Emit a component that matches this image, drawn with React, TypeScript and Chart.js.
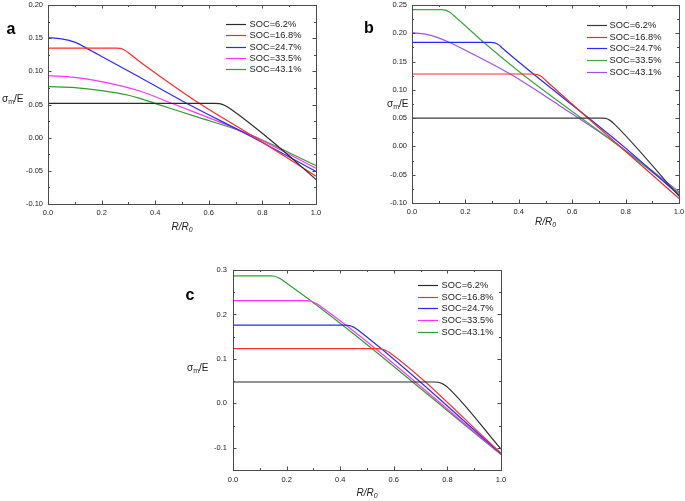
import React, { useEffect, useRef } from "react";
import { Chart, registerables } from "chart.js";

Chart.register(...registerables);

// ---------- data ----------
const SOC_LABELS = ["SOC=6.2%", "SOC=16.8%", "SOC=24.7%", "SOC=33.5%", "SOC=43.1%"];
const X_TICKS = [0, 0.2, 0.4, 0.6, 0.8, 1.0];
const A_Y_TICKS = [-0.1, -0.05, 0, 0.05, 0.1, 0.15, 0.2];
const B_Y_TICKS = [-0.1, -0.05, 0, 0.05, 0.1, 0.15, 0.2, 0.25];
const C_Y_TICKS = [-0.1, 0, 0.1, 0.2, 0.3];

// panel a  [R/R0, sigma_m/E]
const A_SOC62 = [[0, 0.0518], [0.62, 0.0518], [0.64, 0.0512], [0.66, 0.0485], [0.68, 0.0435], [0.83, -0.0035], [1, -0.063]];
const A_SOC168 = [[0, 0.135], [0.255, 0.135], [0.27, 0.1345], [0.285, 0.1322], [0.3425, 0.1145], [0.564, 0.0518], [0.747, 0.0066], [1, -0.058]];
const A_SOC247 = [[0, 0.151], [0.05, 0.149], [0.1, 0.144], [0.15, 0.1335], [0.2, 0.1225], [0.3425, 0.091], [0.517, 0.0518], [0.747, 0.004], [1, -0.051]];
const A_SOC335 = [[0, 0.0935], [0.1, 0.091], [0.2, 0.0845], [0.3425, 0.0703], [0.461, 0.0518], [0.747, 0.0055], [1, -0.046]];
const A_SOC431 = [[0, 0.077], [0.1, 0.0755], [0.2, 0.071], [0.3, 0.064], [0.3425, 0.0593], [0.3985, 0.0518], [0.55, 0.032], [0.741, 0.0066], [1, -0.042]];

// panel b
const B_SOC62 = [[0, 0.05], [0.71, 0.05], [0.725, 0.0495], [0.74, 0.0465], [0.76, 0.0385], [1, -0.088]];
const B_SOC168 = [[0, 0.128], [0.455, 0.128], [0.47, 0.127], [0.485, 0.1235], [0.5, 0.117], [1, -0.092]];
const B_SOC247 = [[0, 0.184], [0.295, 0.184], [0.31, 0.183], [0.325, 0.1795], [0.34, 0.173], [0.8, -0.003], [1, -0.086]];
const B_SOC335 = [[0, 0.242], [0.11, 0.242], [0.125, 0.241], [0.14, 0.2375], [0.155, 0.232], [0.266, 0.185], [0.41, 0.129], [0.78, -0.001], [1, -0.083]];
const B_SOC431 = [[0, 0.201], [0.05, 0.1985], [0.1, 0.192], [0.137, 0.1845], [0.2, 0.17], [0.368, 0.128], [0.55, 0.073], [0.78, 0], [1, -0.08]];

// panel c
const C_SOC62 = [[0, 0.048], [0.75, 0.048], [0.765, 0.0475], [0.78, 0.0445], [0.8, 0.0365], [1, -0.103]];
const C_SOC168 = [[0, 0.123], [0.54, 0.123], [0.555, 0.122], [0.57, 0.119], [0.585, 0.114], [1, -0.112]];
const C_SOC247 = [[0, 0.176], [0.42, 0.176], [0.435, 0.175], [0.45, 0.1715], [0.465, 0.1655], [1, -0.113]];
const C_SOC335 = [[0, 0.231], [0.275, 0.231], [0.29, 0.23], [0.305, 0.2265], [0.32, 0.221], [1, -0.114]];
const C_SOC431 = [[0, 0.287], [0.14, 0.287], [0.155, 0.286], [0.17, 0.2825], [0.185, 0.277], [1, -0.115]];

// ---------- styles ----------
const FONT = "'Liberation Sans', Arial, sans-serif";
const FRAME = "#4a4a4a";
const TEXT = "#222";
const A_COLORS = ["#2b2b2b", "#ff2a2a", "#2a2aff", "#ff33ff", "#2e9e2e"];
const B_COLORS = ["#3a3a3a", "#e83030", "#2a2aff", "#3aa83a", "#a050f0"];
const C_COLORS = ["#2b2b2b", "#ff3030", "#2a2aff", "#ff33ff", "#2e9e2e"];

const decoPlugin = {
  id: "panelDeco",
  afterDraw(chart: any, _args: any, o: any) {
    const { ctx, chartArea: ca, scales } = chart;
    const xs = scales.x;
    const ys = scales.y;
    ctx.save();
    // frame
    ctx.strokeStyle = FRAME;
    ctx.lineWidth = 1;
    ctx.strokeRect(ca.left + 0.5, ca.top + 0.5, ca.right - ca.left, ca.bottom - ca.top);
    // x ticks (inside, bottom & top)
    ctx.beginPath();
    const nx = Math.round(1 / 0.1);
    for (let i = 0; i <= nx; i++) {
      const v = i * 0.1;
      const px = Math.round(xs.getPixelForValue(v)) + 0.5;
      const len = i % 2 === 0 ? 3.5 : 2;
      ctx.moveTo(px, ca.bottom);
      ctx.lineTo(px, ca.bottom - len);
      ctx.moveTo(px, ca.top);
      ctx.lineTo(px, ca.top + len);
    }
    // y ticks (inside, left & right)
    const ny = Math.round((o.yMax - o.yMin) / o.yMinor);
    for (let i = 0; i <= ny; i++) {
      const v = o.yMin + i * o.yMinor;
      const r = v / o.yMajor;
      const major = Math.abs(r - Math.round(r)) < 1e-6;
      const py = Math.round(ys.getPixelForValue(v)) + 0.5;
      const len = major ? 3.5 : 2;
      ctx.moveTo(ca.left, py);
      ctx.lineTo(ca.left + len, py);
      ctx.moveTo(ca.right, py);
      ctx.lineTo(ca.right - len, py);
    }
    ctx.stroke();

    // panel letter
    ctx.fillStyle = "#000";
    ctx.font = `bold 16px ${FONT}`;
    ctx.textAlign = "center";
    ctx.textBaseline = "middle";
    ctx.fillText(o.letter, o.letterX, o.letterY);

    // y title: sigma_m / E
    ctx.fillStyle = TEXT;
    ctx.textAlign = "left";
    ctx.textBaseline = "middle";
    let x = o.yTitleX;
    const y = o.yTitleY;
    ctx.font = `10px ${FONT}`;
    ctx.fillText("σ", x, y);
    x += ctx.measureText("σ").width;
    ctx.font = `7px ${FONT}`;
    ctx.fillText("m", x, y + 3);
    x += ctx.measureText("m").width;
    ctx.font = `10px ${FONT}`;
    ctx.fillText("/E", x, y);

    // x title: R/R0 (italic)
    ctx.font = `italic 10px ${FONT}`;
    const main = "R/R";
    const w1 = ctx.measureText(main).width;
    ctx.font = `italic 7px ${FONT}`;
    const w2 = ctx.measureText("0").width;
    const cx = (ca.left + ca.right) / 2;
    const tx = cx - (w1 + w2) / 2;
    const ty = ca.bottom + o.xTitleDy;
    ctx.font = `italic 10px ${FONT}`;
    ctx.fillText(main, tx, ty);
    ctx.font = `italic 7px ${FONT}`;
    ctx.fillText("0", tx + w1, ty + 3);

    // legend
    ctx.font = `9.3px ${FONT}`;
    ctx.textBaseline = "middle";
    chart.data.datasets.forEach((ds: any, i: number) => {
      const ly = o.legY + i * o.legDy;
      ctx.strokeStyle = ds.borderColor;
      ctx.lineWidth = 1.2;
      ctx.beginPath();
      ctx.moveTo(o.legX1, Math.round(ly) + 0.5);
      ctx.lineTo(o.legX2, Math.round(ly) + 0.5);
      ctx.stroke();
      ctx.fillStyle = TEXT;
      ctx.fillText(ds.label, o.legTx, ly + 0.5);
    });
    ctx.restore();
  },
};

type Panel = {
  left: number; top: number; width: number; height: number;
  padTop: number; padRight: number; yW: number; xH: number;
  series: number[][][]; colors: string[];
  yMin: number; yMax: number; yTicks: number[]; yDec: number; yMajor: number; yMinor: number;
  xPad: number; yPad: number;
  deco: any;
};

const PANELS: Panel[] = [
  {
    left: 0, top: 0, width: 340, height: 250, padTop: 5, padRight: 24, yW: 48, xH: 46,
    series: [A_SOC62, A_SOC168, A_SOC247, A_SOC335, A_SOC431], colors: A_COLORS,
    yMin: -0.1, yMax: 0.2, yTicks: A_Y_TICKS, yDec: 2, yMajor: 0.05, yMinor: 0.025, xPad: 4, yPad: 5,
    deco: { letter: "a", letterX: 11, letterY: 30, yTitleX: 2, yTitleY: 99, xTitleDy: 23,
      legX1: 226, legX2: 246, legTx: 249.5, legY: 24, legDy: 11.25 },
  },
  {
    left: 340, top: 0, width: 345, height: 250, padTop: 5, padRight: 6, yW: 72, xH: 47,
    series: [B_SOC62, B_SOC168, B_SOC247, B_SOC335, B_SOC431], colors: B_COLORS,
    yMin: -0.1, yMax: 0.25, yTicks: B_Y_TICKS, yDec: 2, yMajor: 0.05, yMinor: 0.025, xPad: 4, yPad: 5,
    deco: { letter: "b", letterX: 29, letterY: 29, yTitleX: 47, yTitleY: 104, xTitleDy: 19,
      legX1: 247, legX2: 267, legTx: 269.5, legY: 25, legDy: 11.65 },
  },
  {
    left: 170, top: 250, width: 345, height: 251, padTop: 20, padRight: 14, yW: 63, xH: 31,
    series: [C_SOC62, C_SOC168, C_SOC247, C_SOC335, C_SOC431], colors: C_COLORS,
    yMin: -0.15, yMax: 0.3, yTicks: C_Y_TICKS, yDec: 1, yMajor: 0.1, yMinor: 0.05, xPad: 5, yPad: 6,
    deco: { letter: "c", letterX: 20, letterY: 46, yTitleX: 17, yTitleY: 118, xTitleDy: 23,
      legX1: 248, legX2: 268, legTx: 271.5, legY: 35, legDy: 11.67 },
  },
];

function PanelChart({ p }: { p: Panel }) {
  const ref = useRef<HTMLCanvasElement>(null);
  useEffect(() => {
    if (!ref.current) return;
    const chart = new Chart(ref.current, {
      type: "line",
      data: {
        datasets: p.series.map((s, i) => ({
          label: SOC_LABELS[i],
          data: s.map(([x, y]) => ({ x, y })),
          borderColor: p.colors[i],
          backgroundColor: p.colors[i],
          borderWidth: 1.2,
          pointRadius: 0,
          cubicInterpolationMode: "monotone",
          fill: false,
        })),
      },
      options: {
        responsive: false,
        animation: false,
        events: [],
        layout: { padding: { left: 0, top: p.padTop, right: p.padRight, bottom: 0 } },
        plugins: {
          legend: { display: false },
          tooltip: { enabled: false },
          panelDeco: { ...p.deco, yMin: p.yMin, yMax: p.yMax, yMajor: p.yMajor, yMinor: p.yMinor },
        } as any,
        scales: {
          x: {
            type: "linear",
            min: 0,
            max: 1,
            grid: { display: false, drawTicks: false, tickLength: 0 },
            border: { display: false },
            afterBuildTicks: (s: any) => { s.ticks = X_TICKS.map((v) => ({ value: v })); },
            afterFit: (s: any) => { s.height = p.xH; s.paddingLeft = 0; s.paddingRight = 0; },
            ticks: {
              padding: p.xPad,
              color: TEXT,
              autoSkip: false,
              maxRotation: 0,
              font: { family: FONT, size: 7.5 },
              callback: (v: any) => Number(v).toFixed(1),
            },
          },
          y: {
            type: "linear",
            min: p.yMin,
            max: p.yMax,
            grid: { display: false, drawTicks: false, tickLength: 0 },
            border: { display: false },
            afterBuildTicks: (s: any) => { s.ticks = p.yTicks.map((v) => ({ value: v })); },
            afterFit: (s: any) => { s.width = p.yW; s.paddingTop = 0; s.paddingBottom = 0; },
            ticks: {
              padding: p.yPad,
              color: TEXT,
              autoSkip: false,
              font: { family: FONT, size: 7.5 },
              callback: (v: any) => Number(v).toFixed(p.yDec),
            },
          },
        },
      } as any,
      plugins: [decoPlugin],
    });
    return () => chart.destroy();
  }, [p]);
  return (
    <canvas
      ref={ref}
      width={p.width}
      height={p.height}
      style={{ position: "absolute", left: p.left, top: p.top, width: p.width, height: p.height }}
    />
  );
}

export default function App() {
  return (
    <div style={{ position: "absolute", left: 0, top: 0, width: 685, height: 501, background: "#fff" }}>
      {PANELS.map((p, i) => (
        <PanelChart key={i} p={p} />
      ))}
    </div>
  );
}
